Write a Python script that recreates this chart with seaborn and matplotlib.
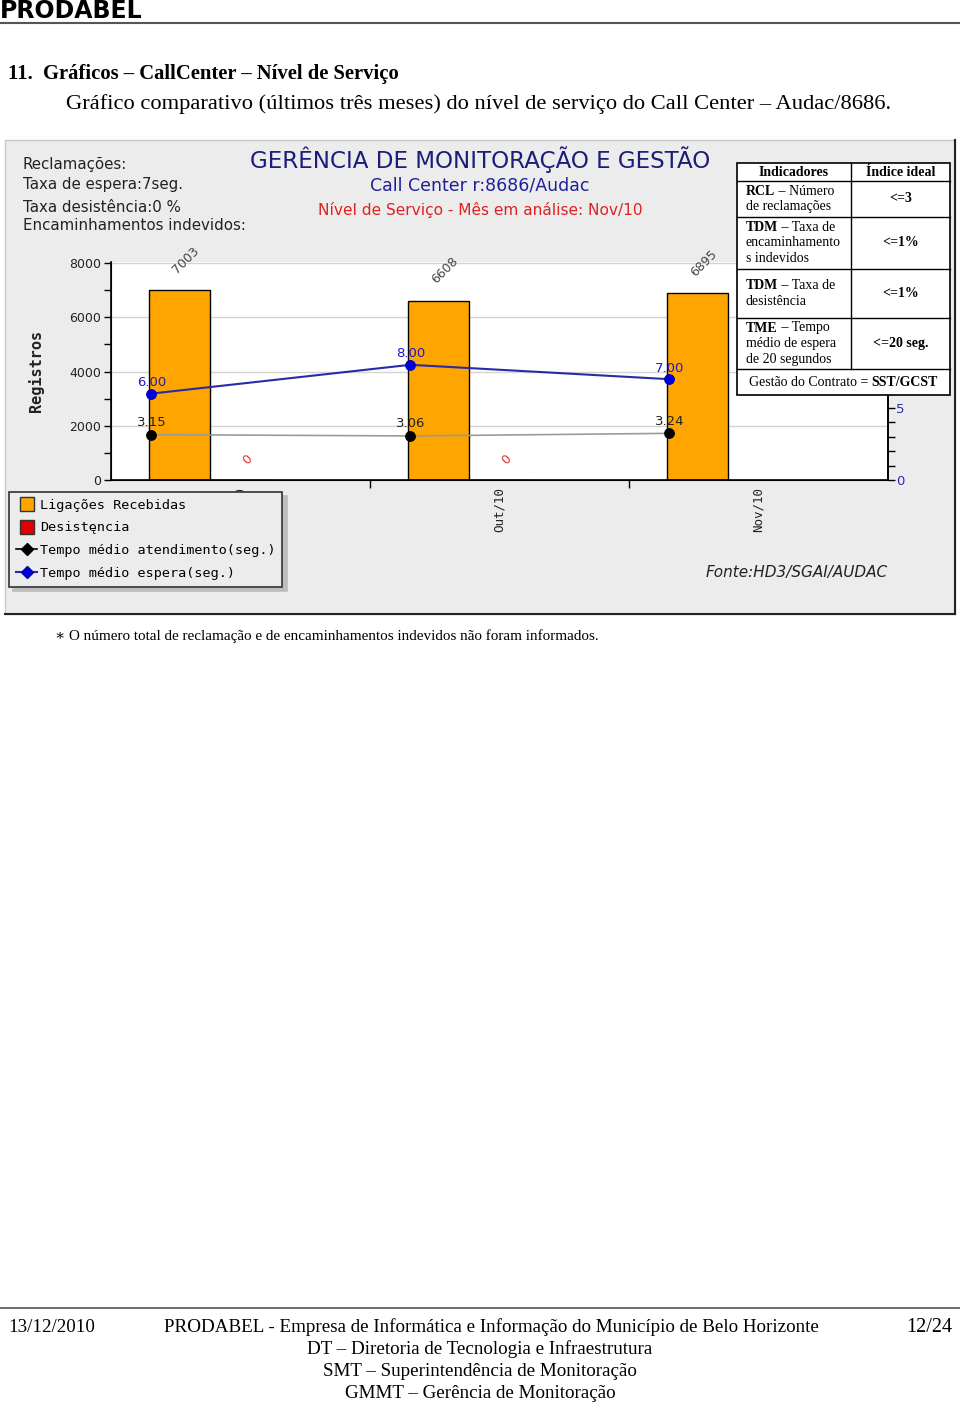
import numpy as np
import pandas as pd
import matplotlib
matplotlib.use("Agg")
import matplotlib.pyplot as plt
import seaborn as sns
from matplotlib.patches import Rectangle
from matplotlib.lines import Line2D

# ---------------- data ----------------
meses = ["Set/10", "Out/10", "Nov/10"]
ligacoes = [7003, 6608, 6895]
desistencia = [0, 0, np.nan]
tempo_atendimento = [3.15, 3.06, 3.24]
tempo_espera = [6.00, 8.00, 7.00]
bar_series = ["Ligações Recebidas", "Desistencia", "Reserva"]
legend_labels = ["Ligações Recebidas", "Desistęncia",
                 "Tempo médio atendimento(seg.)", "Tempo médio espera(seg.)"]
left_major = [0, 2000, 4000, 6000, 8000]
left_minor = [1000, 3000, 5000, 7000]
right_major = [0, 5]
right_minor = [1, 2, 3, 4, 6, 7, 8, 9, 10, 11, 12, 13, 14, 15]
info_lines = ["Reclamações:", "Taxa de espera:7seg.", "Taxa desistência:0 %",
              "Encaminhamentos indevidos:"]
chart_title = "GERÊNCIA DE MONITORAÇÃO E GESTÃO"
chart_sub1 = "Call Center r:8686/Audac"
chart_sub2 = "Nível de Serviço - Mês em análise: Nov/10"
fonte = "Fonte:HD3/SGAI/AUDAC"
table_header = ["Indicadores", "Índice ideal"]
table_rows = [
    [[("RCL", "bold"), (" – Número", "normal")], ["de reclamações"], "<=3"],
    [[("TDM", "bold"), (" – Taxa de", "normal")], ["encaminhamento", "s indevidos"], "<=1%"],
    [[("TDM", "bold"), (" – Taxa de", "normal")], ["desistência"], "<=1%"],
    [[("TME", "bold"), (" – Tempo", "normal")], ["médio de espera", "de 20 segundos"], "<=20 seg."],
]
table_footer = [("Gestão do Contrato = ", "normal"), ("SST/GCST", "bold")]
page_title = "11.  Gráficos – CallCenter – Nível de Serviço"
page_sub = "Gráfico comparativo (últimos três meses) do nível de serviço do Call Center – Audac/8686."
footnote = "∗ O número total de reclamação e de encaminhamentos indevidos não foram informados."
footer_date = "13/12/2010"
footer_page = "12/24"
footer_lines = ["PRODABEL - Empresa de Informática e Informação do Município de Belo Horizonte",
                "DT – Diretoria de Tecnologia e Infraestrutura",
                "SMT – Superintendência de Monitoração",
                "GMMT – Gerência de Monitoração"]

# ---------------- figure ----------------
W, H = 960, 1402
fig = plt.figure(figsize=(W / 100, H / 100), dpi=100)
fig.patch.set_facecolor("white")
renderer = fig.canvas.get_renderer()

SERIF = ["Liberation Serif", "DejaVu Serif"]
SANS = ["DejaVu Sans"]
MONO = ["DejaVu Sans Mono"]


def fx(x):
    return x / W


def fy(y):
    return 1 - y / H


def ptext(x, y, s, **kw):
    return fig.text(fx(x), fy(y), s, **kw)


def mixed(x, y, parts, size, ha="left", family=SERIF, color="black"):
    texts = []
    cur = x
    for s, w in parts:
        t = fig.text(fx(cur), fy(y), s, fontsize=size, fontweight=w, family=family,
                     va="center", ha="left", color=color, zorder=6)
        bb = t.get_window_extent(renderer)
        cur += bb.width
        texts.append(t)
    if ha == "center":
        shift = (cur - x) / 2
        for t in texts:
            px, py = t.get_position()
            t.set_position((px - shift / W, py))
    return texts


# page header
ptext(0, 18, "PRODABEL", fontsize=17, fontweight="bold", family=SANS, va="baseline")
fig.add_artist(Line2D([0, 1], [fy(23), fy(23)], color="#555555", lw=1.5))
ptext(8, 79, page_title, fontsize=14.9, fontweight="bold", family=SERIF, va="baseline")
ptext(66, 109, page_sub, fontsize=16.2, family=SERIF, va="baseline")

# chart panel
fig.add_artist(Rectangle((fx(5), fy(614)), (950) / W, (474) / H, transform=fig.transFigure,
                         facecolor="#ececec", edgecolor="#c8c8c8", lw=1, zorder=-2))
fig.add_artist(Line2D([fx(955), fx(955)], [fy(614), fy(140)], color="#222222", lw=1.5, zorder=-1))
fig.add_artist(Line2D([fx(5), fx(955)], [fy(614), fy(614)], color="#222222", lw=1.5, zorder=-1))

for s, yy in zip(info_lines, [165, 184, 207, 226]):
    ptext(23, yy, s, fontsize=10.8, family=SANS, va="center", color="#222222")

ptext(480, 160, chart_title, fontsize=16.6, family=SANS, va="center", ha="center", color="#1c1c7a")
ptext(480, 186, chart_sub1, fontsize=12.5, family=SANS, va="center", ha="center", color="#1f1f9a")
ptext(480, 210, chart_sub2, fontsize=11.1, family=SANS, va="center", ha="center", color="#dd2222")

# ---------------- plot axes ----------------
ax = fig.add_axes([fx(111), fy(480), 777 / W, 218 / H])
ax.set_facecolor("white")

df = pd.DataFrame({
    "mes": meses * 2,
    "serie": [bar_series[0]] * 3 + [bar_series[1]] * 3,
    "valor": ligacoes + desistencia,
})
sns.barplot(data=df, x="mes", y="valor", hue="serie", hue_order=bar_series,
            order=meses, palette={bar_series[0]: "#FFA500", bar_series[1]: "#E00000",
                                  bar_series[2]: "#999999"},
            width=0.708, edgecolor="black", linewidth=1.0, saturation=1,
            legend=False, ax=ax, errorbar=None)

ax.set_xlim(-0.5, 2.5)
ax.set_ylim(0, 8037)
ax.set_axisbelow(True)
ax.set_yticks(left_major)
ax.set_yticks(left_minor, minor=True)
ax.yaxis.grid(True, which="major", color="#d4d4d4", lw=1)
ax.tick_params(axis="y", which="both", direction="out", length=5, width=1, colors="black",
               labelsize=9, labelcolor="#222222", pad=2)
ax.set_xticks(range(len(meses)))
ax.set_xticklabels(meses, rotation=90, family=MONO, fontsize=9, va="top", color="#222222")
ax.set_xticks([0.5, 1.5], minor=True)
ax.tick_params(axis="x", which="major", length=0, pad=5)
ax.tick_params(axis="x", which="minor", length=6, width=1, direction="out")
ax.set_xlabel("")
ax.set_ylabel("")
ax.spines["top"].set_visible(False)
for sp in ["left", "bottom", "right"]:
    ax.spines[sp].set_color("black")
    ax.spines[sp].set_linewidth(1.2)

orange_bars = list(ax.containers[0])
red_bars = list(ax.containers[1])
for b in orange_bars:
    cx = b.get_x() + b.get_width() / 2
    ax.annotate(f"{int(round(b.get_height()))}", (cx, b.get_height()), xytext=(6.5, 30),
                textcoords="offset pixels", rotation=45, ha="center", va="center",
                fontsize=9, color="#444444", family=SANS, annotation_clip=False)
for b in red_bars:
    if np.isnan(b.get_height()):
        continue
    cx = b.get_x() + b.get_width() / 2
    ax.annotate(f"{int(round(b.get_height()))}", (cx, b.get_height()), xytext=(7, 20),
                textcoords="offset pixels", rotation=45, ha="center", va="center",
                fontsize=9, color="#e03030", family=SANS, annotation_clip=False)

ptext(36, 371, "Registros", fontsize=11, fontweight="bold", family=MONO, rotation=90,
      va="center", ha="center", color="#222222")

# right axis with lines
ax2 = ax.twinx()
ax2.set_ylim(0, 218 / 14.4)
line_x = [b.get_x() + 0.01 for b in orange_bars]
sns.lineplot(x=line_x, y=tempo_atendimento, ax=ax2, color="#9a9a9a", lw=1.2, sort=False,
             marker="o", markersize=7, markerfacecolor="black", markeredgecolor="black")
sns.lineplot(x=line_x, y=tempo_espera, ax=ax2, color="#2a2aa8", lw=1.5, sort=False,
             marker="o", markersize=7, markerfacecolor="#0000dd", markeredgecolor="#0000aa")
for xx, v in zip(line_x, tempo_atendimento):
    ax2.annotate(f"{v:.2f}", (xx, v), xytext=(0, 12), textcoords="offset pixels",
                 ha="center", va="center", fontsize=9.5, color="#222222", family=SANS)
for xx, v in zip(line_x, tempo_espera):
    ax2.annotate(f"{v:.2f}", (xx, v), xytext=(0, 11), textcoords="offset pixels",
                 ha="center", va="center", fontsize=9.5, color="#1a1acc", family=SANS)
ax2.set_xlim(-0.5, 2.5)
ax2.set_yticks(right_major)
ax2.set_yticks(right_minor, minor=True)
ax2.tick_params(axis="y", which="both", direction="out", length=5, width=1, colors="black",
                labelsize=9.5, labelcolor="#2a2ab8", pad=1)
ax2.set_ylabel("")
ax2.spines["top"].set_visible(False)
ax2.spines["right"].set_linewidth(1.2)

# legend
handles = [
    Line2D([], [], ls="none", marker="s", markersize=9.5, markerfacecolor="#FFA500",
           markeredgecolor="#333333"),
    Line2D([], [], ls="none", marker="s", markersize=9.5, markerfacecolor="#E00000",
           markeredgecolor="#333333"),
    Line2D([], [], color="black", lw=1.2, marker="D", markersize=6, markerfacecolor="black"),
    Line2D([], [], color="#2a2aa8", lw=1.5, marker="D", markersize=6, markerfacecolor="#0000dd",
           markeredgecolor="#0000aa"),
]
leg = fig.legend(handles, legend_labels, loc="upper left",
                 bbox_to_anchor=(fx(9), fy(492)), bbox_transform=fig.transFigure,
                 borderaxespad=0, frameon=True, fancybox=False, framealpha=1,
                 facecolor="#ececec", edgecolor="#333333", numpoints=1,
                 prop={"family": MONO, "size": 9.7}, handlelength=1.6, handletextpad=0.2,
                 labelspacing=0.72, borderpad=0.5,
                 shadow={"ox": 3, "oy": -3, "color": "#bdbdbd", "alpha": 1})
leg.get_frame().set_linewidth(1.2)
leg.set_zorder(10)

ptext(888, 572, fonte, fontsize=11, style="italic", family=SANS, va="center", ha="right",
      color="#222222")

# indicator table
tx0, tx1, tsplit = 737, 950, 851
row_edges = [163, 181, 217, 269, 318, 369, 395]
fig.add_artist(Rectangle((fx(tx0), fy(row_edges[-1])), (tx1 - tx0) / W,
                         (row_edges[-1] - row_edges[0]) / H, transform=fig.transFigure,
                         facecolor="white", edgecolor="black", lw=1.2, zorder=5))
for yy in row_edges[1:-1]:
    fig.add_artist(Line2D([fx(tx0), fx(tx1)], [fy(yy), fy(yy)], color="black", lw=1, zorder=5))
fig.add_artist(Line2D([fx(tsplit), fx(tsplit)], [fy(row_edges[0]), fy(row_edges[-2])],
                      color="black", lw=1, zorder=5))
TS = 10
ptext((tx0 + tsplit) / 2, 172, table_header[0], fontsize=TS, fontweight="bold", family=SERIF,
      ha="center", va="center", zorder=6)
ptext((tsplit + tx1) / 2, 172, table_header[1], fontsize=TS, fontweight="bold", family=SERIF,
      ha="center", va="center", zorder=6)
LS = 15.5
for (first, rest, ideal), top, bot in zip(table_rows, row_edges[1:5], row_edges[2:6]):
    n = 1 + len(rest)
    ystart = (top + bot) / 2 - (n - 1) * LS / 2
    mixed(746, ystart, first, TS)
    for k, s in enumerate(rest):
        ptext(746, ystart + (k + 1) * LS, s, fontsize=TS, family=SERIF, va="center", zorder=6)
    ptext((tsplit + tx1) / 2, (top + bot) / 2, ideal, fontsize=TS, fontweight="bold",
          family=SERIF, ha="center", va="center", zorder=6)
mixed((tx0 + tx1) / 2, (row_edges[-2] + row_edges[-1]) / 2, table_footer, TS, ha="center")

# footnote
ptext(55, 640, footnote, fontsize=10.9, family=SERIF, va="baseline")

# footer
fig.add_artist(Line2D([0, 1], [fy(1308), fy(1308)], color="#555555", lw=1.2))
ptext(8, 1332, footer_date, fontsize=13.6, family=SERIF, va="baseline")
ptext(952, 1332, footer_page, fontsize=14.5, family=SERIF, va="baseline", ha="right")
ptext(491, 1332, footer_lines[0], fontsize=13.7, family=SERIF, va="baseline", ha="center")
for s, yy in zip(footer_lines[1:], [1354, 1376, 1398]):
    ptext(480, yy, s, fontsize=13.7, family=SERIF, va="baseline", ha="center")

fig.savefig("out.png", dpi=100)
